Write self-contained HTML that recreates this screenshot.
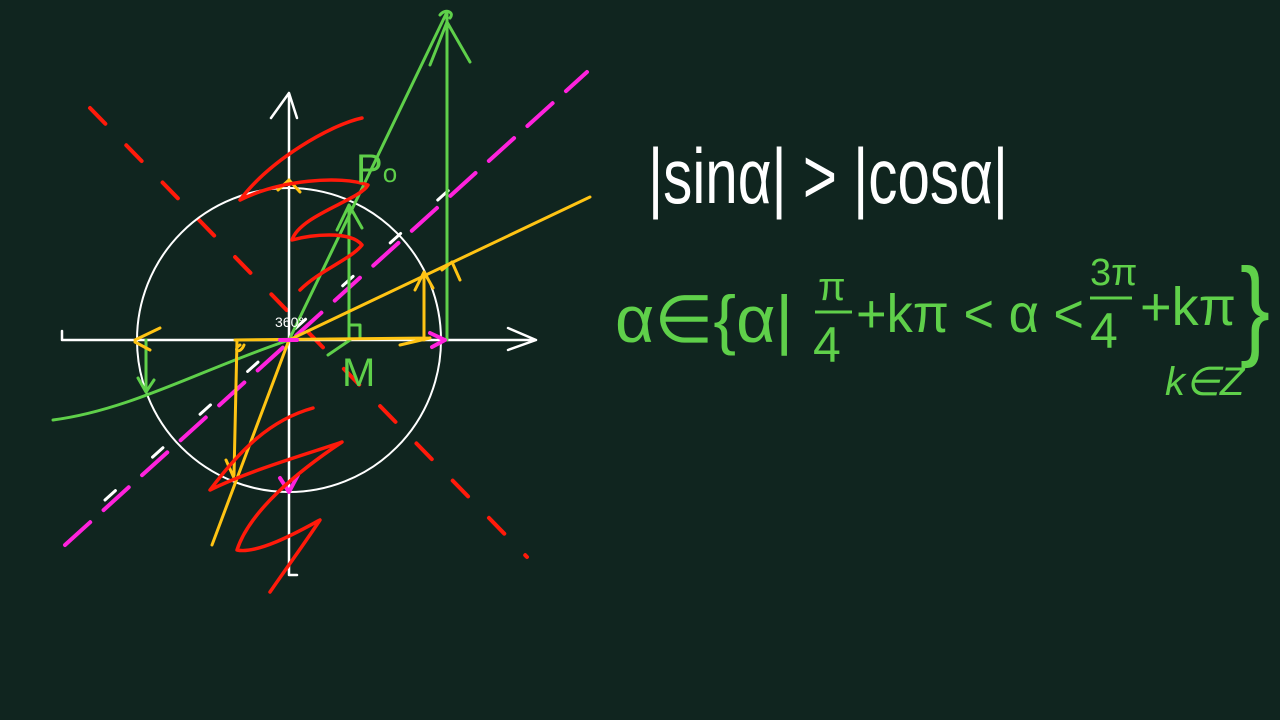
<!DOCTYPE html>
<html><head><meta charset="utf-8"><title>|sin α| > |cos α|</title>
<style>
html,body{margin:0;padding:0;background:#10251f;width:1280px;height:720px;overflow:hidden}
svg{display:block}
text{font-family:"Liberation Sans",sans-serif}
</style></head>
<body>
<svg width="1280" height="720" viewBox="0 0 1280 720">
<rect width="1280" height="720" fill="#10251f"/>
<g fill="none" stroke-linecap="round" stroke-linejoin="round">
  <path d="M90,108 L527,557" stroke="#ff1a0a" stroke-width="4" stroke-dasharray="22,30"/>
  <path d="M65,545 L587,72" stroke="#ff22dd" stroke-width="4" stroke-dasharray="34,18"/>
  <path d="M105,500 L460,180" stroke="#ffffff" stroke-width="3" stroke-dasharray="14,50"/>
  <circle cx="289" cy="340" r="152" stroke="#ffffff" stroke-width="2"/>
  <path d="M62,340 L536,340 M62,340 L62,331 M508,328 L536,340 L508,350" stroke="#ffffff" stroke-width="2.5"/>
  <path d="M289,95 L289,575 L297,575 M271,118 L289,93 L297,118" stroke="#ffffff" stroke-width="2.5"/>
  <path d="M53,420 C130,410 200,370 289,340" stroke="#5fd04a" stroke-width="3"/>
  <path d="M289,340 L447,12" stroke="#5fd04a" stroke-width="3"/>
  <path d="M447,340 L447,12 M430,65 L447,22 L470,62 M440,15 C445,8 455,12 450,18" stroke="#5fd04a" stroke-width="3"/>
  <path d="M349,340 L349,205 M337,230 L349,205 L362,228 M349,325 L360,325 L360,338 M328,355 L350,340" stroke="#5fd04a" stroke-width="3"/>
  <path d="M146,340 L146,390 M138,378 L146,392 L154,380" stroke="#5fd04a" stroke-width="3"/>
  <path d="M289,340 L590,197" stroke="#ffc414" stroke-width="3"/>
  <path d="M289,340 L212,545" stroke="#ffc414" stroke-width="3"/>
  <path d="M235,340 L430,338 M400,345 L430,338 M424,340 L424,275 M415,290 L424,272 L433,288 M237,340 L234,475 M226,460 L234,478 M240,345 C232,350 240,355 244,345 M278,190 L289,180 L300,192 M442,270 L452,262 L460,280 M135,340 L160,328 M135,342 L150,350" stroke="#ffc414" stroke-width="3"/>
  <path d="M280,340 L297,340 M430,333 L445,340 L432,347 M280,478 L289,492 L298,475" stroke="#ff22dd" stroke-width="4"/>
  <path d="M240,200 C270,160 330,125 362,118 M240,200 C280,180 340,175 368,185 C360,200 300,215 292,240 C310,235 350,230 362,245 C350,260 320,270 300,290" stroke="#ff1a0a" stroke-width="3.5"/>
  <path d="M313,408 C270,420 240,450 210,490 C250,470 320,450 342,442 C300,470 250,510 237,550 C260,555 310,525 320,520 C300,550 285,570 270,592" stroke="#ff1a0a" stroke-width="3.5"/>
  <text x="356" y="182" fill="#5fd04a" font-size="40" stroke="none">P<tspan font-size="26">o</tspan></text>
  <text x="342" y="386" fill="#5fd04a" font-size="40" stroke="none">M</text>
  <text x="275" y="327" fill="#ffffff" font-size="14" stroke="none">360°</text>
</g>
<g>
  <text x="648" y="203" fill="#ffffff" font-size="78" textLength="360" lengthAdjust="spacingAndGlyphs">|sinα| &gt; |cosα|</text>
</g>
<g fill="#5fd04a">
  <text x="615" y="342" font-size="66" textLength="178" lengthAdjust="spacingAndGlyphs">α∈{α|</text>
  <text x="818" y="300" font-size="40">π</text>
  <line x1="815" y1="312" x2="852" y2="312" stroke="#5fd04a" stroke-width="3"/>
  <text x="813" y="362" font-size="50">4</text>
  <text x="856" y="332" font-size="54" textLength="228" lengthAdjust="spacingAndGlyphs">+kπ &lt; α &lt;</text>
  <text x="1090" y="285" font-size="38">3π</text>
  <line x1="1090" y1="298" x2="1132" y2="298" stroke="#5fd04a" stroke-width="3"/>
  <text x="1090" y="348" font-size="50">4</text>
  <text x="1140" y="325" font-size="54" textLength="96" lengthAdjust="spacingAndGlyphs">+kπ</text>
  <text x="1240" y="345" font-size="110" textLength="30" lengthAdjust="spacingAndGlyphs">}</text>
  <text x="1165" y="395" font-size="40" font-style="italic">k∈Z</text>
</g>
</svg>
</body></html>
